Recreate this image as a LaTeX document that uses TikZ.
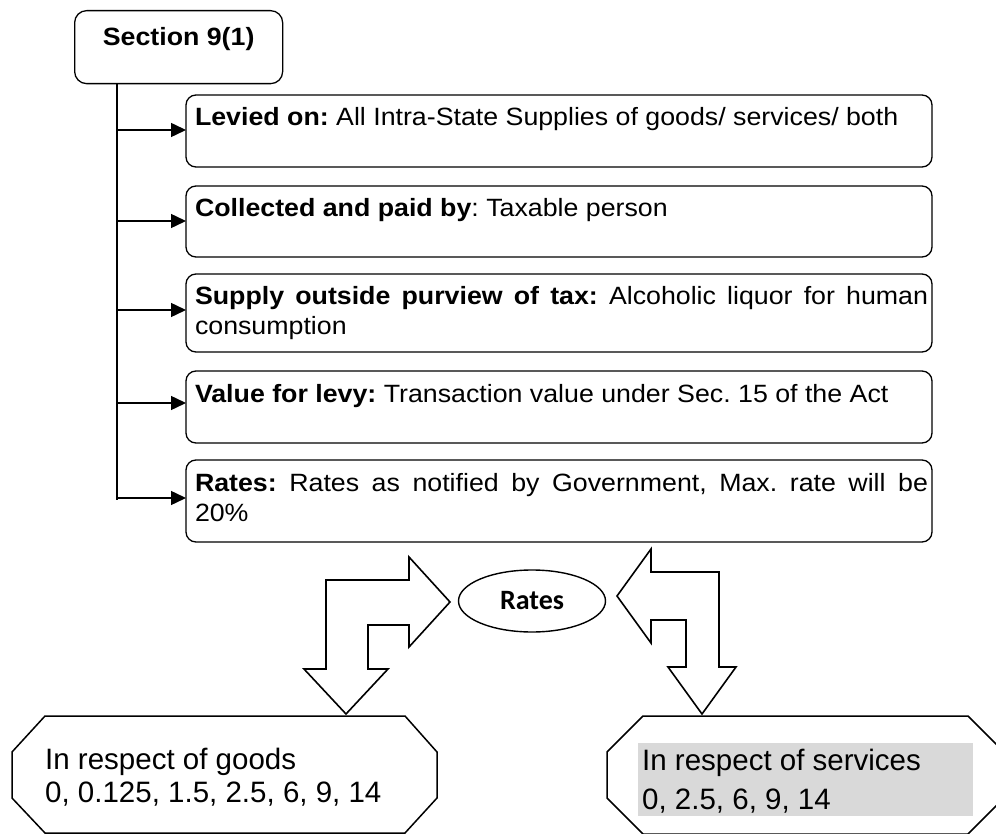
\documentclass[tikz,border=0pt]{standalone}
\usepackage{fontspec}
\setmainfont{Liberation Sans}
\newfontfamily\upfont[FakeStretch=1.07]{Liberation Sans}
\newfontfamily\calfont{Carlito}
\usetikzlibrary{arrows.meta,shapes.geometric}
\definecolor{hl}{HTML}{D9D9D9}
\frenchspacing
\newcommand\boxtxt[2]{\parbox[c][#1][t]{746pt}{\upfont\fontsize{25pt}{30pt}\selectfont\frenchspacing\leftskip=9pt\rightskip=4pt\relax\rule{0pt}{31pt}#2}}
\tikzset{
  infobox/.style={draw, rounded corners=10pt, line width=1.3pt, inner sep=0pt, outer sep=0pt, anchor=north west},
  trunkline/.style={line width=2pt},
  branch/.style={line width=1.5pt, -{Triangle[length=15pt,width=14pt]}},
  blockarrow/.style={draw, line width=1.6pt, line join=miter, fill=white},
  octo/.style={draw, line width=1.5pt, line join=miter},
}
\begin{document}
\begin{tikzpicture}[x=1pt,y=-1pt]
\useasboundingbox (0,0) rectangle (996,834);

% Section box
\node[draw, rounded corners=12pt, line width=1.3pt, inner sep=0pt, anchor=north west] (sec) at (74,10)
  {\parbox[c][73pt][t]{208pt}{\centering\upfont\bfseries\fontsize{25pt}{30pt}\selectfont\rule{0pt}{35pt}Section 9(1)}};

% Info boxes
\node[infobox] (b1) at (186,95) {\boxtxt{72pt}{\textbf{Levied on:} All Intra-State Supplies of goods/ services/ both}};
\node[infobox] (b2) at (186,186) {\boxtxt{71pt}{\textbf{Collected and paid by}: Taxable person}};
\node[infobox] (b3) at (186,274) {\boxtxt{78pt}{\textbf{Supply outside purview of tax:} Alcoholic liquor for human\linebreak consumption}};
\node[infobox] (b4) at (186,371) {\boxtxt{72pt}{\textbf{Value for levy:} Transaction value under Sec. 15 of the Act}};
\node[infobox] (b5) at (186,460) {\boxtxt{82pt}{\textbf{Rates:} Rates as notified by Government, Max. rate will be\linebreak 20\%}};

% Trunk and branches
\coordinate (t5) at (117,500);
\draw[trunkline] (sec.south -| t5) -- (t5);
\coordinate (j1) at (117,130);
\coordinate (j2) at (117,221);
\coordinate (j3) at (117,310);
\coordinate (j4) at (117,403);
\coordinate (j5) at (117,498);
\draw[branch] (j1) -- (b1.west |- j1);
\draw[branch] (j2) -- (b2.west |- j2);
\draw[branch] (j3) -- (b3.west |- j3);
\draw[branch] (j4) -- (b4.west |- j4);
\draw[branch] (j5) -- (b5.west |- j5);

% Rates ellipse
\node[ellipse, draw, line width=1.4pt, minimum width=147pt, minimum height=62pt, inner sep=0pt,
      font=\calfont\bfseries\fontsize{28pt}{30pt}\selectfont] (rates) at (532,601) {Rates};

% Bent block arrows
\draw[blockarrow] (326,580) -- (409,580) -- (409,557) -- (450,602) -- (409,647) -- (409,625)
  -- (368,625) -- (368,669) -- (388,669) -- (346,714) -- (304,669) -- (326,669) -- cycle;
\draw[blockarrow] (617,596) -- (651,549) -- (651,572) -- (719,572) -- (719,667) -- (736,667)
  -- (702,714) -- (668,667) -- (686,667) -- (686,620) -- (651,620) -- (651,643) -- cycle;

% Octagons
\draw[octo] (45,716) -- (405,716) -- (437,752) -- (437,798) -- (405,833) -- (45,833) -- (12,798) -- (12,752) -- cycle;
\draw[octo] (643,716) -- (968,716) -- (1004,752) -- (1004,798) -- (968,834) -- (643,834) -- (607,798) -- (607,752) -- cycle;

\node[anchor=north west, inner sep=0pt] (goods) at (45,739)
  {\parbox[t]{380pt}{\fontsize{29.5pt}{33pt}\selectfont\rule{0pt}{30pt}In respect of goods\\0, 0.125, 1.5, 2.5, 6, 9, 14}};
\node[anchor=north west, inner sep=0pt, fill=hl] (services) at (638,743)
  {\parbox[c][73pt][t]{335pt}{\leftskip=4pt\relax\fontsize{29.5pt}{39pt}\selectfont\rule{0pt}{27pt}In respect of services\\0, 2.5, 6, 9, 14}};
\end{tikzpicture}
\end{document}
